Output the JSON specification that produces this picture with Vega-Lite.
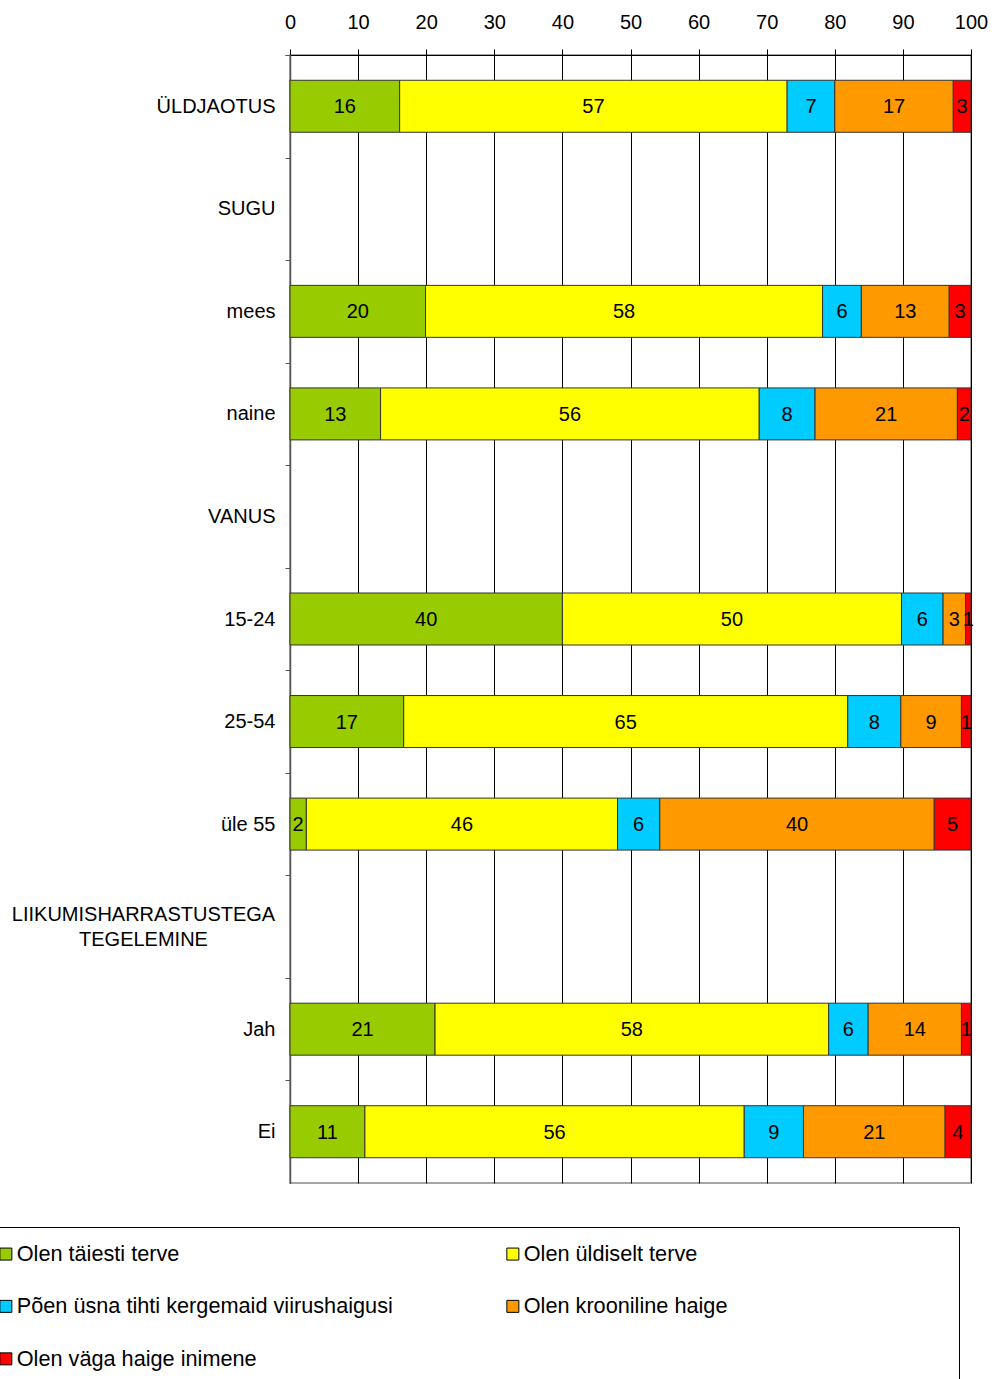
{
  "$schema": "https://vega.github.io/schema/vega-lite/v6.json",
  "width": 681,
  "height": 1128,
  "autosize": {"type": "none"},
  "padding": {"left": 290, "top": 55, "right": 21, "bottom": 196},
  "background": "white",
  "config": {
    "font": "Liberation Sans",
    "view": {"stroke": "#888", "strokeWidth": 1.5}
  },
  "data": {
    "values": [
      {"grupp": "ÜLDJAOTUS", "seis": "Olen täiesti terve", "j": 1, "v": 16.1},
      {"grupp": "ÜLDJAOTUS", "seis": "Olen üldiselt terve", "j": 2, "v": 56.9},
      {"grupp": "ÜLDJAOTUS", "seis": "Põen üsna tihti kergemaid viirushaigusi", "j": 3, "v": 7.0},
      {"grupp": "ÜLDJAOTUS", "seis": "Olen krooniline haige", "j": 4, "v": 17.4},
      {"grupp": "ÜLDJAOTUS", "seis": "Olen väga haige inimene", "j": 5, "v": 2.6},
      {"grupp": "mees", "seis": "Olen täiesti terve", "j": 1, "v": 19.9},
      {"grupp": "mees", "seis": "Olen üldiselt terve", "j": 2, "v": 58.3},
      {"grupp": "mees", "seis": "Põen üsna tihti kergemaid viirushaigusi", "j": 3, "v": 5.7},
      {"grupp": "mees", "seis": "Olen krooniline haige", "j": 4, "v": 12.9},
      {"grupp": "mees", "seis": "Olen väga haige inimene", "j": 5, "v": 3.2},
      {"grupp": "naine", "seis": "Olen täiesti terve", "j": 1, "v": 13.3},
      {"grupp": "naine", "seis": "Olen üldiselt terve", "j": 2, "v": 55.6},
      {"grupp": "naine", "seis": "Põen üsna tihti kergemaid viirushaigusi", "j": 3, "v": 8.2},
      {"grupp": "naine", "seis": "Olen krooniline haige", "j": 4, "v": 20.9},
      {"grupp": "naine", "seis": "Olen väga haige inimene", "j": 5, "v": 2.0},
      {"grupp": "15-24", "seis": "Olen täiesti terve", "j": 1, "v": 40.0},
      {"grupp": "15-24", "seis": "Olen üldiselt terve", "j": 2, "v": 49.8},
      {"grupp": "15-24", "seis": "Põen üsna tihti kergemaid viirushaigusi", "j": 3, "v": 6.1},
      {"grupp": "15-24", "seis": "Olen krooniline haige", "j": 4, "v": 3.3},
      {"grupp": "15-24", "seis": "Olen väga haige inimene", "j": 5, "v": 0.8},
      {"grupp": "25-54", "seis": "Olen täiesti terve", "j": 1, "v": 16.7},
      {"grupp": "25-54", "seis": "Olen üldiselt terve", "j": 2, "v": 65.2},
      {"grupp": "25-54", "seis": "Põen üsna tihti kergemaid viirushaigusi", "j": 3, "v": 7.8},
      {"grupp": "25-54", "seis": "Olen krooniline haige", "j": 4, "v": 8.9},
      {"grupp": "25-54", "seis": "Olen väga haige inimene", "j": 5, "v": 1.4},
      {"grupp": "üle 55", "seis": "Olen täiesti terve", "j": 1, "v": 2.4},
      {"grupp": "üle 55", "seis": "Olen üldiselt terve", "j": 2, "v": 45.7},
      {"grupp": "üle 55", "seis": "Põen üsna tihti kergemaid viirushaigusi", "j": 3, "v": 6.2},
      {"grupp": "üle 55", "seis": "Olen krooniline haige", "j": 4, "v": 40.3},
      {"grupp": "üle 55", "seis": "Olen väga haige inimene", "j": 5, "v": 5.4},
      {"grupp": "Jah", "seis": "Olen täiesti terve", "j": 1, "v": 21.3},
      {"grupp": "Jah", "seis": "Olen üldiselt terve", "j": 2, "v": 57.8},
      {"grupp": "Jah", "seis": "Põen üsna tihti kergemaid viirushaigusi", "j": 3, "v": 5.8},
      {"grupp": "Jah", "seis": "Olen krooniline haige", "j": 4, "v": 13.7},
      {"grupp": "Jah", "seis": "Olen väga haige inimene", "j": 5, "v": 1.4},
      {"grupp": "Ei", "seis": "Olen täiesti terve", "j": 1, "v": 11.0},
      {"grupp": "Ei", "seis": "Olen üldiselt terve", "j": 2, "v": 55.7},
      {"grupp": "Ei", "seis": "Põen üsna tihti kergemaid viirushaigusi", "j": 3, "v": 8.7},
      {"grupp": "Ei", "seis": "Olen krooniline haige", "j": 4, "v": 20.8},
      {"grupp": "Ei", "seis": "Olen väga haige inimene", "j": 5, "v": 3.8}
    ]
  },
  "encoding": {
    "y": {
      "field": "grupp",
      "type": "nominal",
      "title": null,
      "scale": {
        "domain": ["ÜLDJAOTUS", "SUGU", "mees", "naine", "VANUS", "15-24", "25-54", "üle 55", "LIIKUMISHARRASTUSTEGA TEGELEMINE", "Jah", "Ei"],
        "paddingInner": 0.493,
        "paddingOuter": 0.2465
      },
      "axis": {
        "title": null,
        "grid": false,
        "domainColor": "#555",
        "domainWidth": 1.5,
        "ticks": true,
        "tickSize": 5,
        "tickColor": "#555",
        "bandPosition": 0,
        "tickOffset": -25.3,
        "tickExtra": true,
        "labelFontSize": 20,
        "labelColor": "#000",
        "labelLimit": 0,
        "labelLineHeight": 25,
        "labelExpr": "datum.value == 'LIIKUMISHARRASTUSTEGA TEGELEMINE' ? ['LIIKUMISHARRASTUSTEGA', 'TEGELEMINE'] : datum.value",
        "labelAlign": {"condition": {"test": "datum.value == 'LIIKUMISHARRASTUSTEGA TEGELEMINE'", "value": "center"}, "value": "right"},
        "labelPadding": {"condition": {"test": "datum.value == 'LIIKUMISHARRASTUSTEGA TEGELEMINE'", "value": 142}, "value": 10},
        "labelOffset": {"condition": {"test": "datum.value == 'LIIKUMISHARRASTUSTEGA TEGELEMINE'", "value": 13.3}, "value": 25.3}
      }
    }
  },
  "layer": [
    {
      "mark": {"type": "bar", "stroke": "#333", "strokeWidth": 1},
      "encoding": {
        "x": {
          "field": "v",
          "type": "quantitative",
          "stack": "zero",
          "title": null,
          "scale": {"domain": [0, 100], "nice": false},
          "axis": {
            "orient": "top",
            "title": null,
            "values": [0, 10, 20, 30, 40, 50, 60, 70, 80, 90, 100],
            "grid": true,
            "gridColor": "#000",
            "gridWidth": 1,
            "domainColor": "#000",
            "tickColor": "#000",
            "tickSize": 6,
            "labelFontSize": 20,
            "labelColor": "#000",
            "labelPadding": 17,
            "labelFlush": false,
            "labelOverlap": false
          }
        },
        "color": {
          "field": "seis",
          "type": "nominal",
          "scale": {
            "domain": ["Olen täiesti terve", "Põen üsna tihti kergemaid viirushaigusi", "Olen väga haige inimene", "Olen üldiselt terve", "Olen krooniline haige"],
            "range": ["#99cc00", "#00ccff", "#ff0000", "#ffff00", "#ff9900"]
          },
          "legend": {
            "orient": "none",
            "legendX": -311,
            "legendY": 1172,
            "columns": 2,
            "title": "\u00a0",
            "titleOrient": "right",
            "titlePadding": 216,
            "titleFontSize": 10,
            "strokeColor": "#000",
            "fillColor": "white",
            "padding": 16,
            "columnPadding": 109,
            "rowPadding": 29.5,
            "symbolType": "square",
            "symbolSize": 144,
            "symbolStrokeColor": "#000",
            "symbolStrokeWidth": 1,
            "labelFontSize": 21.7,
            "labelColor": "#000",
            "labelOffset": 0,
            "labelLimit": 0
          }
        },
        "order": {"field": "j", "type": "quantitative"}
      }
    },
    {
      "mark": {"type": "text", "fontSize": 20, "color": "#000", "dy": 1},
      "encoding": {
        "x": {"field": "v", "type": "quantitative", "stack": "zero", "bandPosition": 0.5},
        "detail": {"field": "seis"},
        "order": {"field": "j", "type": "quantitative"},
        "text": {"field": "v", "type": "quantitative", "format": ".0f"}
      }
    }
  ]
}
